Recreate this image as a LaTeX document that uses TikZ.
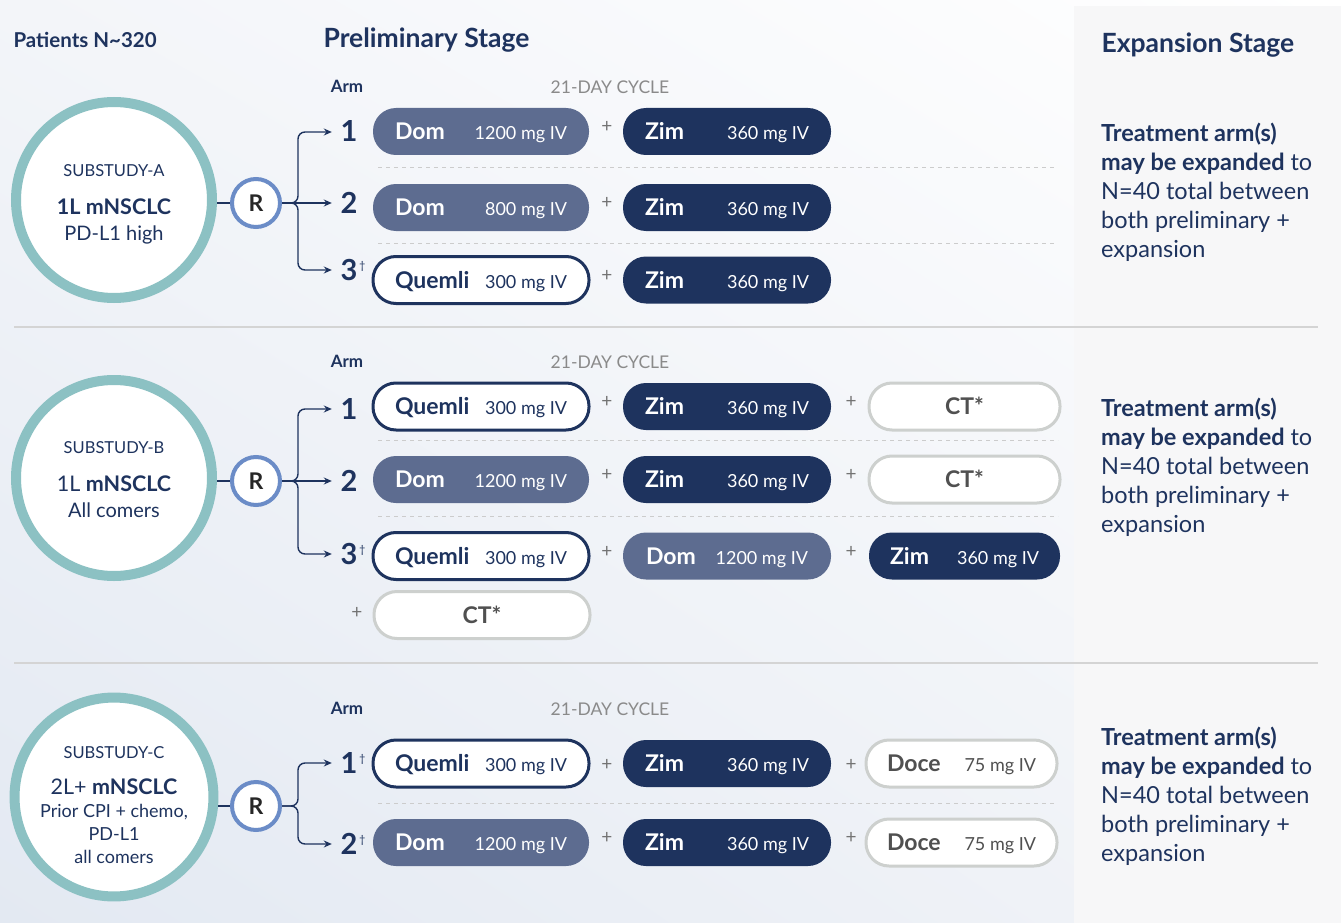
\documentclass[tikz,border=0pt]{standalone}
\usepackage{fontspec}
\setmainfont{Lato}
\usepackage{tikz}
\usetikzlibrary{arrows.meta,positioning,calc,shadings}

\definecolor{navy}{HTML}{1E335E}
\definecolor{slate}{HTML}{5D6C90}
\definecolor{ringteal}{HTML}{8CC1C3}
\definecolor{rblue}{HTML}{6B8CC7}
\definecolor{pillgray}{HTML}{CDD0CE}
\definecolor{ctgray}{HTML}{505050}
\definecolor{cycgray}{HTML}{8A8A8A}
\definecolor{bgtop}{HTML}{F3F5F9}
\definecolor{bgblue}{HTML}{E3E9F2}
\definecolor{bgmid}{HTML}{F2F4F8}
\definecolor{panel}{HTML}{F7F7F8}

\newcommand{\rx}[3]{\makebox[#1]{{\fontsize{23}{26}\selectfont\bfseries #2}\hfill #3}}
\newcommand{\dagmark}{\rlap{\raisebox{11pt}{\fontsize{11}{11}\selectfont\mdseries\,†}}}

\begin{document}
\begin{tikzpicture}[
    x=1pt, y=-1pt,
    sub/.style={circle, draw=ringteal, line width=10pt, fill=white, minimum size=196pt, inner sep=0pt, align=center, text=navy, font=\fontsize{20}{26}\selectfont},
    rnode/.style={circle, draw=rblue, line width=4pt, fill=white, minimum size=48pt, inner sep=0pt, font=\fontsize{23}{23}\selectfont\bfseries, text=black!85},
    arm/.style={minimum width=34pt, inner sep=0pt, text height=20pt, text depth=0pt, font=\fontsize{29}{29}\selectfont\bfseries, text=navy},
    pill/.style={rectangle, rounded corners=23pt, minimum height=47pt, inner sep=0pt, text height=20pt, text depth=4pt, font=\fontsize{18}{21}\selectfont},
    dom/.style={pill, fill=slate, text=white},
    zim/.style={pill, fill=navy, text=white},
    quem/.style={pill, draw=navy, line width=3pt, fill=white, text=navy},
    ct/.style={pill, draw=pillgray, line width=3pt, fill=white, text=ctgray},
    wa/.style={minimum width=216pt},
    wb/.style={minimum width=208pt},
    wc/.style={minimum width=191pt},
    plus/.style={font=\fontsize{19}{19}\selectfont, text=black!55},
    armhd/.style={font=\fontsize{17}{17}\selectfont\bfseries, text=navy},
    cyc/.style={font=\fontsize{17.5}{17.5}\selectfont, text=cycgray},
    head/.style={anchor=west, font=\fontsize{26.5}{27}\selectfont\bfseries, text=navy},
    expand/.style={anchor=north west, align=left, inner sep=0pt, font=\fontsize{23.5}{29}\selectfont, text=navy},
    sep/.style={draw=black!20, dash pattern=on 4pt off 4pt, line width=1pt},
    hsep/.style={draw=black!17, line width=1.3pt},
    arr/.style={-{Stealth[length=8pt, width=7pt]}, line width=1.4pt, draw=navy, rounded corners=7pt},
    link/.style={line width=1.4pt, draw=navy}
]
    \useasboundingbox (0,0) rectangle (1341,923);

    % Background
    \shade[upper left=bgtop, upper right=white, lower left=bgblue, lower right=bgmid] (0,0) rectangle (1341,923);
    \fill[panel] (1074,6) rectangle (1341,923);
    \draw[hsep] (14,327) -- (1318,327);
    \draw[hsep] (14,663) -- (1318,663);

    % Headers
    \node[anchor=west, font=\fontsize{20.5}{21}\selectfont\bfseries, text=navy] (hdPat) at (10,40) {Patients N\textasciitilde320};
    \node[head] (hdPre) at (320,40) {Preliminary Stage};
    \node[head] (hdExp) at (1098,45) {Expansion Stage};

    % Substudy A
    \node[sub] (subA) at (114,200) {\rule{0pt}{20pt}{\fontsize{16.5}{18}\selectfont SUBSTUDY-A}\\[12pt]{\fontsize{21.5}{26}\selectfont\bfseries 1L mNSCLC}\\PD-L1 high};
    \node[rnode] (rA) at (256,203) {R};
    \coordinate (jA) at (298,203);
    \draw[link] (rA -| subA.east) -- (rA);
    \node[armhd] (armhdA) at (347,86) {Arm};
    \node[cyc] (cycA) at (610,87) {21-DAY CYCLE};
    \node[arm] (armA1) at (349,132) {1};
    \node[arm] (armA2) at (349,203) {2};
    \node[arm] (armA3) at (349,270) {3\dagmark};
    \draw[arr] (rA) -- (jA) |- (armA1);
    \draw[arr] (rA) -- (armA2);
    \draw[arr] (rA) -- (jA) |- (armA3);

    \node[dom, wa] (a1d) at (481,131.5) {\rx{172pt}{Dom}{1200 mg IV}};
    \node[plus] (a1p) at (607,127) {+};
    \node[zim, wb] (a1z) at (727,131.5) {\rx{164pt}{Zim}{360 mg IV}};
    \draw[sep] (378,167) -- (1057,167);
    \node[dom, wa] (a2d) at (481,207.5) {\rx{172pt}{Dom}{800 mg IV}};
    \node[plus] (a2p) at (607,203) {+};
    \node[zim, wb] (a2z) at (727,207.5) {\rx{164pt}{Zim}{360 mg IV}};
    \draw[sep] (378,243) -- (1057,243);
    \node[quem, wa] (a3q) at (481,280) {\rx{172pt}{Quemli}{300 mg IV}};
    \node[plus] (a3p) at (607,276) {+};
    \node[zim, wb] (a3z) at (727,280) {\rx{164pt}{Zim}{360 mg IV}};

    \node[expand] (expA) at (1101,123) {\textbf{Treatment arm(s)}\\\textbf{may be expanded} to\\N=40 total between\\both preliminary +\\expansion};

    % Substudy B
    \node[sub] (subB) at (114,478) {\rule{0pt}{16pt}{\fontsize{16.5}{18}\selectfont SUBSTUDY-B}\\[12pt]{\fontsize{21.5}{26}\selectfont 1L \textbf{mNSCLC}}\\All comers};
    \node[rnode] (rB) at (256,481) {R};
    \coordinate (jB) at (298,481);
    \draw[link] (rB -| subB.east) -- (rB);
    \node[armhd] (armhdB) at (347,361) {Arm};
    \node[cyc] (cycB) at (610,362) {21-DAY CYCLE};
    \node[arm] (armB1) at (349,409) {1};
    \node[arm] (armB2) at (349,481) {2};
    \node[arm] (armB3) at (349,554) {3\dagmark};
    \draw[arr] (rB) -- (jB) |- (armB1);
    \draw[arr] (rB) -- (armB2);
    \draw[arr] (rB) -- (jB) |- (armB3);

    \node[quem, wa] (b1q) at (481,406.5) {\rx{172pt}{Quemli}{300 mg IV}};
    \node[plus] (b1p) at (607,402) {+};
    \node[zim, wb] (b1z) at (727,406.5) {\rx{164pt}{Zim}{360 mg IV}};
    \node[plus] (b1p2) at (851,402) {+};
    \node[ct, wc] (b1c) at (964.5,406.5) {\fontsize{23}{26}\selectfont\bfseries CT*};
    \draw[sep] (378,440) -- (1058,440);
    \node[dom, wa] (b2d) at (481,479.5) {\rx{172pt}{Dom}{1200 mg IV}};
    \node[plus] (b2p) at (607,475) {+};
    \node[zim, wb] (b2z) at (727,479.5) {\rx{164pt}{Zim}{360 mg IV}};
    \node[plus] (b2p2) at (851,475) {+};
    \node[ct, wc] (b2c) at (964.5,479.5) {\fontsize{23}{26}\selectfont\bfseries CT*};
    \draw[sep] (378,516) -- (1058,516);
    \node[quem, wa] (b3q) at (481,556) {\rx{172pt}{Quemli}{300 mg IV}};
    \node[plus] (b3p) at (607,552) {+};
    \node[dom, wb] (b3d) at (727,556) {\rx{162pt}{Dom}{1200 mg IV}};
    \node[plus] (b3p2) at (851,552) {+};
    \node[zim, wc] (b3z) at (964.5,556) {\rx{149pt}{Zim}{360 mg IV}};
    \node[plus] (b4p) at (357,613) {+};
    \node[ct, wa] (b4c) at (482,615) {\fontsize{23}{26}\selectfont\bfseries CT*};

    \node[expand] (expB) at (1101,398) {\textbf{Treatment arm(s)}\\\textbf{may be expanded} to\\N=40 total between\\both preliminary +\\expansion};

    % Substudy C
    \node[sub] (subC) at (114,797) {\rule{0pt}{28pt}{\fontsize{16.5}{18}\selectfont SUBSTUDY-C}\\[10pt]{\fontsize{21.5}{25}\selectfont 2L+ \textbf{mNSCLC}}\\[-3pt]{\fontsize{18}{22.5}\selectfont Prior CPI + chemo,}\\[-3pt]{\fontsize{18}{22.5}\selectfont PD-L1}\\[-3pt]{\fontsize{18}{22.5}\selectfont all comers}};
    \node[rnode] (rC) at (256,806) {R};
    \coordinate (jC) at (298,806);
    \draw[link] (rC -| subC.east) -- (rC);
    \node[armhd] (armhdC) at (347,708) {Arm};
    \node[cyc] (cycC) at (610,709) {21-DAY CYCLE};
    \node[arm] (armC1) at (349,763) {1\dagmark};
    \node[arm] (armC2) at (349,844) {2\dagmark};
    \draw[arr] (rC) -- (jC) |- (armC1);
    \draw[arr] (rC) -- (jC) |- (armC2);

    \node[quem, wa] (c1q) at (481,763.5) {\rx{172pt}{Quemli}{300 mg IV}};
    \node[plus] (c1p) at (607,765) {+};
    \node[zim, wb] (c1z) at (727,763.5) {\rx{164pt}{Zim}{360 mg IV}};
    \node[plus] (c1p2) at (851,765) {+};
    \node[ct, wc] (c1c) at (961.5,763.5) {\rx{149pt}{Doce}{75 mg IV}};
    \draw[sep] (378,803) -- (1057,803);
    \node[dom, wa] (c2d) at (481,842.5) {\rx{172pt}{Dom}{1200 mg IV}};
    \node[plus] (c2p) at (607,838) {+};
    \node[zim, wb] (c2z) at (727,842.5) {\rx{164pt}{Zim}{360 mg IV}};
    \node[plus] (c2p2) at (851,838) {+};
    \node[ct, wc] (c2c) at (961.5,842.5) {\rx{149pt}{Doce}{75 mg IV}};

    \node[expand] (expC) at (1101,727) {\textbf{Treatment arm(s)}\\\textbf{may be expanded} to\\N=40 total between\\both preliminary +\\expansion};
\end{tikzpicture}
\end{document}
